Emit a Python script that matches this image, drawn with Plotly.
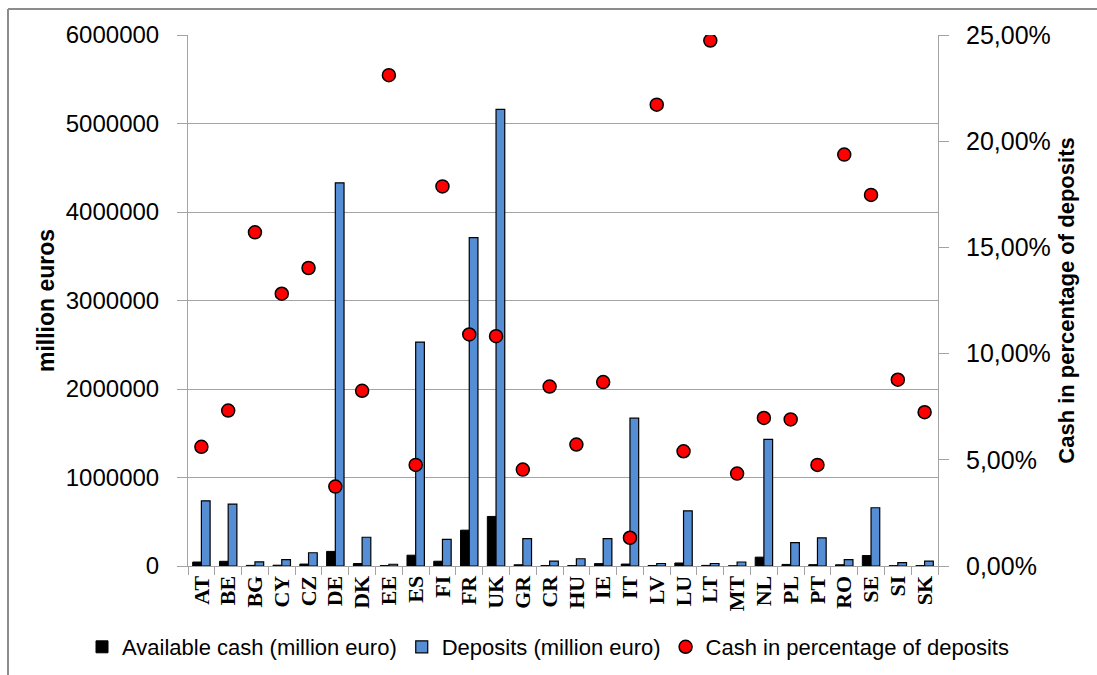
import plotly.graph_objects as go

# Country codes along the category axis
countries = ["AT", "BE", "BG", "CY", "CZ", "DE", "DK", "EE", "ES", "FI", "FR", "UK", "GR", "CR",
             "HU", "IE", "IT", "LV", "LU", "LT", "MT", "NL", "PL", "PT", "RO", "SE", "SI", "SK"]

# Available cash, million euro
cash = [45000, 53000, 7000, 9000, 22000, 165000, 28000, 4500, 122000, 54000, 405000, 560000, 14000, 4700,
        4700, 27000, 22000, 6000, 34000, 7000, 2000, 100000, 18000, 15000, 14000, 118000, 3300, 4000]

# Deposits, million euro
deposits = [737000, 700000, 47000, 73000, 150000, 4330000, 325000, 20000, 2530000, 300000, 3710000,
            5160000, 310000, 55000, 82000, 310000, 1670000, 28000, 624000, 28000, 45000, 1430000,
            265000, 318000, 72000, 658000, 38000, 55000]

# Cash as a percentage of deposits
cash_pct = [5.61, 7.32, 15.71, 12.82, 14.03, 3.74, 8.25, 23.11, 4.76, 17.87, 10.90, 10.82, 4.54, 8.45,
            5.72, 8.66, 1.33, 21.72, 5.40, 24.74, 4.35, 6.97, 6.90, 4.76, 19.37, 17.47, 8.77, 7.24]

left_ticks = [0, 1000000, 2000000, 3000000, 4000000, 5000000, 6000000]
right_ticks = [0, 5, 10, 15, 20, 25]
right_tick_text = [f"{v:.2f}".replace(".", ",") + "%" for v in right_ticks]

W, H = 1097, 675
ML, MR, MT, MB = 188, 159, 35, 109
GRID = "#A3A3A3"
SANS = "Liberation Sans, Arial, sans-serif"

fig = go.Figure()
fig.add_trace(go.Bar(
    x=countries, y=cash, name="Available cash (million euro)",
    marker=dict(color="#000000", line=dict(color="#000000", width=1)),
))
fig.add_trace(go.Bar(
    x=countries, y=deposits, name="Deposits (million euro)",
    marker=dict(color="#558ED5", line=dict(color="#000000", width=1.2)),
))
fig.add_trace(go.Scatter(
    x=countries, y=cash_pct, name="Cash in percentage of deposits", mode="markers", yaxis="y2",
    marker=dict(color="#FF0000", size=13, line=dict(color="#000000", width=1.5)),
))

# outer frame of the chart area (left and top edges)
pw, ph = W - ML - MR, H - MT - MB
def px_x(v):
    return (v - ML) / pw
def px_y(v):
    return (H - MB - v) / ph

fig.add_shape(type="line", xref="paper", yref="paper",
              x0=px_x(8), x1=px_x(8), y0=px_y(9), y1=px_y(690),
              line=dict(color="#8C8C8C", width=2))
fig.add_shape(type="line", xref="paper", yref="paper",
              x0=px_x(8), x1=px_x(1110), y0=px_y(9), y1=px_y(9),
              line=dict(color="#8C8C8C", width=2))

fig.update_layout(
    width=W, height=H,
    margin=dict(l=ML, r=MR, t=MT, b=MB, autoexpand=False),
    paper_bgcolor="white", plot_bgcolor="white",
    barmode="group", bargap=0.35, bargroupgap=0,
    font=dict(family=SANS, color="#000000"),
    xaxis=dict(
        type="category", range=[-0.5, len(countries) - 0.5],
        tickmode="array", tickvals=countries, ticktext=countries,
        showline=True, linecolor=GRID, linewidth=1,
        ticks="outside", tickson="boundaries", ticklen=8, tickcolor=GRID,
        tickangle=-90,
        tickfont=dict(family="Liberation Serif, Times New Roman, serif", size=22, weight="bold"),
        showgrid=False,
    ),
    yaxis=dict(
        range=[0, 6000000], tickvals=left_ticks, ticktext=[str(v) for v in left_ticks],
        showline=True, linecolor=GRID, linewidth=1,
        ticks="outside", ticklen=10, tickcolor=GRID, ticklabelstandoff=13,
        showgrid=True, gridcolor=GRID, gridwidth=1, zeroline=False,
        tickfont=dict(size=24, family=SANS),
        title=dict(text="million euros", font=dict(size=23, family=SANS, weight="bold"), standoff=4),
    ),
    yaxis2=dict(
        overlaying="y", side="right", range=[0, 25],
        tickvals=right_ticks, ticktext=right_tick_text,
        showline=True, linecolor=GRID, linewidth=1,
        ticks="outside", ticklen=10, tickcolor=GRID, ticklabelstandoff=12,
        showgrid=False, zeroline=False,
        tickfont=dict(size=25, family=SANS),
        title=dict(text="Cash in percentage of deposits", font=dict(size=22, family=SANS, weight="bold"),
                   standoff=8),
    ),
    legend=dict(
        orientation="h", x=px_x(82), xanchor="left", y=px_y(626), yanchor="top",
        font=dict(size=22, family=SANS), bgcolor="rgba(0,0,0,0)",
        traceorder="normal",
    ),
)

fig.write_html("out.html")
